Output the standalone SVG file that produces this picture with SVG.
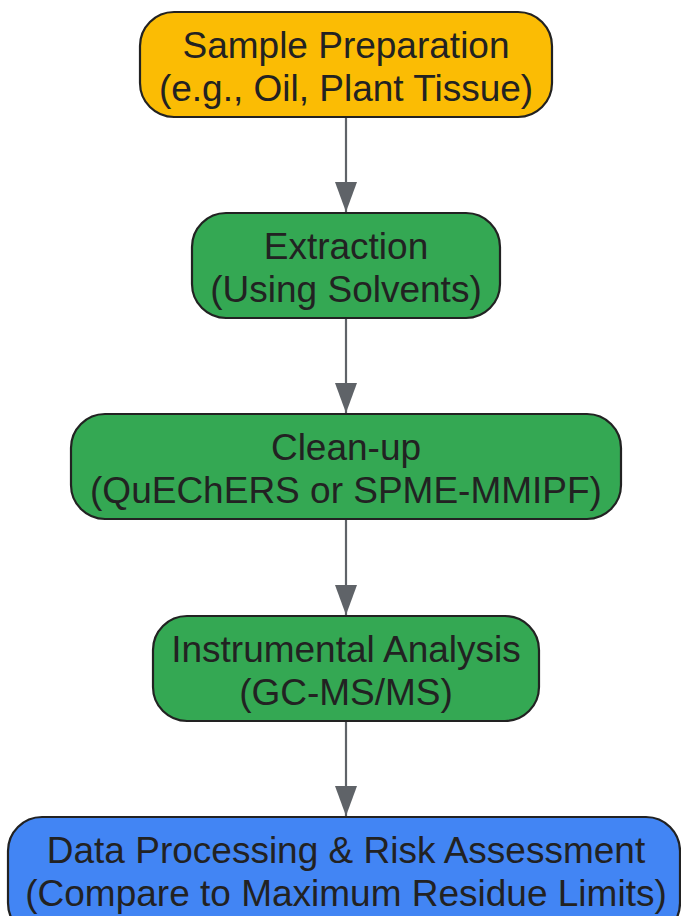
<svg xmlns="http://www.w3.org/2000/svg" width="681" height="916" viewBox="0 0 681 916">
<defs>
<style>
.n{stroke:#222;stroke-width:2.2}
.t{font-family:"Liberation Sans",Arial,sans-serif;font-size:37px;fill:#222;text-anchor:middle}
.c{stroke:#5f6368;stroke-width:2.2;fill:none}
</style>
<marker id="ah" markerWidth="30" markerHeight="22" refX="30" refY="11" orient="auto" markerUnits="userSpaceOnUse" viewBox="0 0 30 22">
<path d="M0,0 L30,11 L0,22 Z" fill="#5f6368"/>
</marker>
</defs>
<rect width="681" height="916" fill="#fff"/>
<g id="connectors">
<line class="c" x1="346" y1="117" x2="346" y2="212" marker-end="url(#ah)"/>
<line class="c" x1="346" y1="318" x2="346" y2="413" marker-end="url(#ah)"/>
<line class="c" x1="346" y1="519" x2="346" y2="615" marker-end="url(#ah)"/>
<line class="c" x1="346" y1="721" x2="346" y2="816" marker-end="url(#ah)"/>
</g>
<g id="n1">
<rect class="n" x="140" y="12" width="412" height="105" rx="34" fill="#fbbc04"/>
<text class="t" x="346" y="58">Sample Preparation</text>
<text class="t" x="346" y="101">(e.g., Oil, Plant Tissue)</text>
</g>
<g id="n2">
<rect class="n" x="192" y="213" width="308" height="105" rx="34" fill="#34a853"/>
<text class="t" x="346" y="259">Extraction</text>
<text class="t" x="346" y="302">(Using Solvents)</text>
</g>
<g id="n3">
<rect class="n" x="71" y="414" width="550" height="105" rx="34" fill="#34a853"/>
<text class="t" x="346" y="460">Clean-up</text>
<text class="t" x="346" y="503">(QuEChERS or SPME-MMIPF)</text>
</g>
<g id="n4">
<rect class="n" x="153" y="616" width="386" height="105" rx="34" fill="#34a853"/>
<text class="t" x="346" y="662">Instrumental Analysis</text>
<text class="t" x="346" y="705">(GC-MS/MS)</text>
</g>
<g id="n5">
<rect class="n" x="8" y="817" width="672" height="120" rx="34" fill="#4285f4"/>
<text class="t" x="346" y="863">Data Processing &amp; Risk Assessment</text>
<text class="t" x="346" y="906">(Compare to Maximum Residue Limits)</text>
</g>
</svg>
